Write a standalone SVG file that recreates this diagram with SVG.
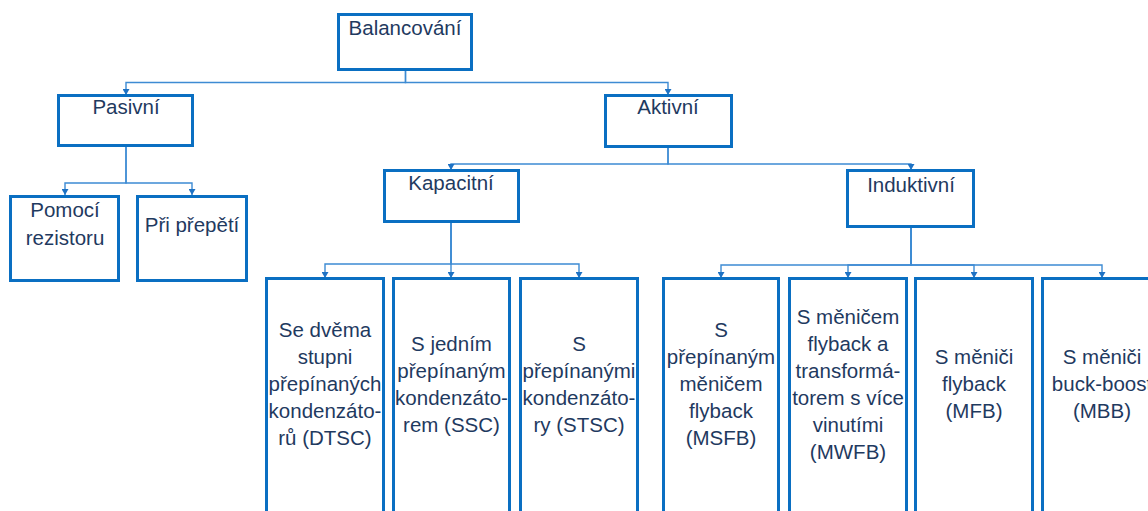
<svg xmlns="http://www.w3.org/2000/svg" width="1148" height="511" viewBox="0 0 1148 511">
<style>
.box{fill:#fff;stroke:#0A6FC2;stroke-width:3}
.t{font-family:"Liberation Sans",Arial,sans-serif;font-size:20.5px;fill:#1F3A5F;text-anchor:middle}
.c{fill:none;stroke:#3D8BD3;stroke-width:1.4;marker-end:url(#ah)}
</style>
<defs>
<marker id="ah" markerUnits="userSpaceOnUse" markerWidth="7" markerHeight="7" refX="6" refY="3.5" orient="auto">
<path d="M0,0 L6,3.5 L0,7 z" fill="#1E72C4"/>
</marker>
</defs>
<rect width="1148" height="511" fill="#fff"/>
<g id="connectors">
<path class="c" d="M405.5 71 V82.5 H126 V95"/>
<path class="c" d="M405.5 71 V82.5 H668 V95"/>
<path class="c" d="M126 147 V183 H65 V195"/>
<path class="c" d="M126 147 V183 H192 V195"/>
<path class="c" d="M668 148 V164 H451 V170"/>
<path class="c" d="M668 148 V164 H911 V170"/>
<path class="c" d="M451 223 V264 H325 V278"/>
<path class="c" d="M451 223 V278"/>
<path class="c" d="M451 223 V264 H579 V278"/>
<path class="c" d="M911 228 V265 H721 V278"/>
<path class="c" d="M911 228 V265 H848 V278"/>
<path class="c" d="M911 228 V265 H974 V278"/>
<path class="c" d="M911 228 V265 H1102 V278"/>
</g>
<g id="balancovani">
<rect class="box" x="338.5" y="14.5" width="133" height="55"/>
<text class="t" x="405" y="35">Balancování</text>
</g>
<g id="pasivni">
<rect class="box" x="58.5" y="95.5" width="134" height="50"/>
<text class="t" x="126" y="114">Pasivní</text>
</g>
<g id="aktivni">
<rect class="box" x="605.5" y="95.5" width="126" height="51"/>
<text class="t" x="668" y="114">Aktivní</text>
</g>
<g id="pomoci">
<rect class="box" x="10.5" y="196.5" width="108" height="84"/>
<text class="t" x="65" y="217">Pomocí</text>
<text class="t" x="65" y="245">rezistoru</text>
</g>
<g id="pri">
<rect class="box" x="137.5" y="196.5" width="109" height="84"/>
<text class="t" x="192" y="232">Při přepětí</text>
</g>
<g id="kapacitni">
<rect class="box" x="384.5" y="170.5" width="134" height="51"/>
<text class="t" x="451" y="190">Kapacitní</text>
</g>
<g id="induktivni">
<rect class="box" x="847.5" y="170.5" width="126" height="56"/>
<text class="t" x="911" y="192">Induktivní</text>
</g>
<g id="dtsc">
<rect class="box" x="266.5" y="278.5" width="117" height="260"/>
<text class="t" x="325" y="337">Se dvěma</text>
<text class="t" x="325" y="364">stupni</text>
<text class="t" x="325" y="391">přepínaných</text>
<text class="t" x="325" y="418">kondenzáto-</text>
<text class="t" x="325" y="445">rů (DTSC)</text>
</g>
<g id="ssc">
<rect class="box" x="393.5" y="278.5" width="116" height="260"/>
<text class="t" x="451.5" y="351">S jedním</text>
<text class="t" x="451.5" y="378">přepínaným</text>
<text class="t" x="451.5" y="405">kondenzáto-</text>
<text class="t" x="451.5" y="432">rem (SSC)</text>
</g>
<g id="stsc">
<rect class="box" x="520.5" y="278.5" width="117" height="260"/>
<text class="t" x="579" y="351">S</text>
<text class="t" x="579" y="378">přepínanými</text>
<text class="t" x="579" y="405">kondenzáto-</text>
<text class="t" x="579" y="432">ry (STSC)</text>
</g>
<g id="msfb">
<rect class="box" x="663.5" y="278.5" width="115" height="260"/>
<text class="t" x="721" y="337">S</text>
<text class="t" x="721" y="364">přepínaným</text>
<text class="t" x="721" y="391">měničem</text>
<text class="t" x="721" y="418">flyback</text>
<text class="t" x="721" y="445">(MSFB)</text>
</g>
<g id="mwfb">
<rect class="box" x="789.5" y="278.5" width="117" height="260"/>
<text class="t" x="848" y="324">S měničem</text>
<text class="t" x="848" y="351">flyback a</text>
<text class="t" x="848" y="378">transformá-</text>
<text class="t" x="848" y="405">torem s více</text>
<text class="t" x="848" y="432">vinutími</text>
<text class="t" x="848" y="459">(MWFB)</text>
</g>
<g id="mfb">
<rect class="box" x="915.5" y="278.5" width="117" height="260"/>
<text class="t" x="974" y="364">S měniči</text>
<text class="t" x="974" y="391">flyback</text>
<text class="t" x="974" y="418">(MFB)</text>
</g>
<g id="mbb">
<rect class="box" x="1042.5" y="278.5" width="118" height="260"/>
<text class="t" x="1102" y="364">S měniči</text>
<text class="t" x="1102" y="391">buck-boost</text>
<text class="t" x="1102" y="418">(MBB)</text>
</g>
</svg>
